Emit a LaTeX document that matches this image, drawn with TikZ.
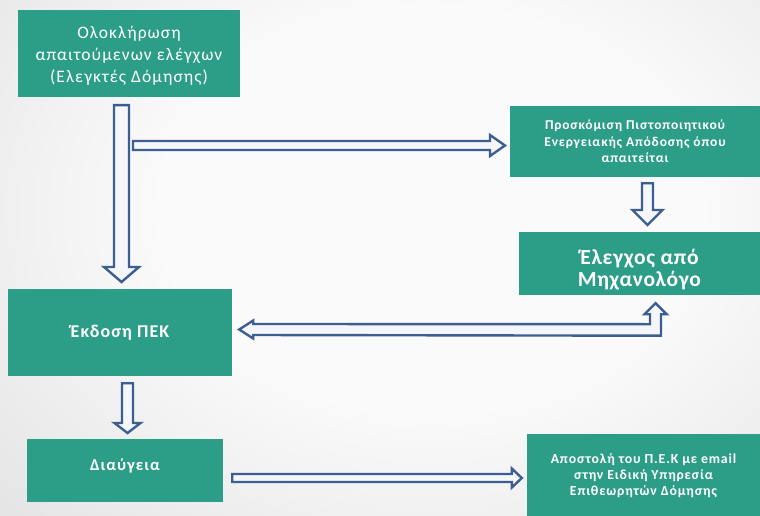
\documentclass[tikz,border=0pt]{standalone}
\usepackage{fontspec}
\setmainfont{Carlito}
\newfontfamily\widefont[LetterSpace=6]{Carlito}
\newfontfamily\boldwide[LetterSpace=6]{Carlito Bold}
\newfontfamily\boldnarrow[LetterSpace=3]{Carlito Bold}
\usetikzlibrary{calc}

\definecolor{boxteal}{RGB}{44,157,135}
\definecolor{arrowblue}{RGB}{61,94,145}
\definecolor{arrowfill}{RGB}{244,246,249}
\definecolor{bgcentre}{RGB}{250,250,250}
\definecolor{bgmid}{RGB}{226,226,226}
\definecolor{bgedge}{RGB}{180,180,180}

\pgfdeclareradialshading{backdrop}{\pgfpoint{0bp}{0bp}}{%
  color(0bp)=(bgcentre); color(12bp)=(bgcentre); color(28bp)=(bgmid);
  color(48bp)=(bgedge); color(80bp)=(bgedge)}

\tikzset{
  stage/.style={fill=boxteal, text=white, align=center, inner sep=0pt},
  blockarrow/.style={draw=arrowblue, fill=arrowfill, line width=2.4pt, line join=miter},
}

% hollow block arrow pointing down, from #1 to the tip #2
% #3 half shaft width, #4 half head width, #5 head length
\newcommand\hollowdown[5]{%
  \draw[blockarrow] ($(#1)+(-#3,0)$) -- ($(#2)+(-#3,-#5)$) -- ($(#2)+(-#4,-#5)$)
    -- (#2) -- ($(#2)+(#4,-#5)$) -- ($(#2)+(#3,-#5)$) -- ($(#1)+(#3,0)$) -- cycle;}
% hollow block arrow pointing right, from #1 to the tip #2
\newcommand\hollowright[5]{%
  \draw[blockarrow] ($(#1)+(0,-#3)$) -- ($(#2)+(-#5,-#3)$) -- ($(#2)+(-#5,-#4)$)
    -- (#2) -- ($(#2)+(-#5,#4)$) -- ($(#2)+(-#5,#3)$) -- ($(#1)+(0,#3)$) -- cycle;}

\begin{document}
\begin{tikzpicture}[x=1pt,y=-1pt]
\path[use as bounding box] (0,0) rectangle (760,516);
\begin{scope}
  \clip (0,0) rectangle (760,516);
  \shade[shading=backdrop] (-130,-210) rectangle (990,630);
\end{scope}

% stages
\node[stage, minimum width=222pt, minimum height=87pt] (done) at (129,53.5) {};
\node[font=\widefont\fontsize{17.5}{22}\selectfont, text=white, align=center]
  at ($(done.center)+(0,2)$)
  {Ολοκλήρωση\\απαιτούμενων ελέγχων\\(Ελεγκτές  Δόμησης)};
\node[stage, minimum width=250pt, minimum height=71pt,
      font=\boldwide\fontsize{13.5}{16.5}\selectfont] (cert) at (635,141.5)
  {Προσκόμιση Πιστοποιητικού\\Ενεργειακής Απόδοσης  όπου\\απαιτείται};
\node[stage, minimum width=241pt, minimum height=63pt] (mech) at (639.5,263.5) {};
\node[font=\boldnarrow\fontsize{21.5}{22}\selectfont, text=white, align=center]
  at ($(mech.center)+(0,6)$) {Έλεγχος από\\Μηχανολόγο};
\node[stage, minimum width=224pt, minimum height=87pt,
      font=\boldwide\fontsize{18}{20}\selectfont] (issue) at (120,332.5) {Έκδοση ΠΕΚ};
\node[stage, minimum width=196pt, minimum height=63pt] (diav) at (125,470.5) {};
\node[font=\boldwide\fontsize{16.5}{20}\selectfont, text=white]
  at ($(diav.center)+(0,-5)$) {Διαύγεια};
\node[stage, minimum width=233pt, minimum height=84pt,
      font=\boldwide\fontsize{13.8}{16}\selectfont] (send) at (643.5,476)
  {Αποστολή  του Π.Ε.Κ με email\\στην Ειδική Υπηρεσία\\Επιθεωρητών Δόμησης};

% connector end points
\coordinate (doneout) at ($(done.south)+(-7.5,8)$);
\coordinate (issuein) at (doneout |- 0,282);
\coordinate (certfrom) at (133,145.5);
\coordinate (certin) at (505,145.5);
\coordinate (certout) at ($(cert.south)+(12.5,6)$);
\coordinate (mechin) at (certout |- 0,225);
\coordinate (issueout) at ($(issue.south)+(7.5,7)$);
\coordinate (diavin) at (issueout |- 0,433);
\coordinate (diavout) at ($(diav.east)+(9,7.5)$);
\coordinate (sendin) at ($(send.west)+(-5,2)$);

% connectors
\hollowdown{doneout}{issuein}{7.5}{17.5}{15}
\hollowright{certfrom}{certin}{4.5}{10.5}{15}
\hollowdown{certout}{mechin}{5.5}{15}{15}
\hollowdown{issueout}{diavin}{5.5}{13}{10}
\hollowright{diavout}{sendin}{4}{9.5}{10}

% bent return arrow from the mechanical check back to the issue stage
\coordinate (mechout) at ($(mech.south)+(16,8)$);
\coordinate (issuetip) at ($(issue.east)+(7,-3)$);
\draw[blockarrow]
  (issuetip) -- ++(14,-9) -- ++(0,3.5) -- ($(mechout)+(-5.5,21)$)
  -- ++(0,-10) -- ++(-5.5,0) -- (mechout) -- ++(11,11) -- ++(-5.5,0)
  -- ++(0,21.5) -- ($(issuetip)+(14,5.5)$) -- ++(0,3.5) -- cycle;
\end{tikzpicture}
\end{document}
